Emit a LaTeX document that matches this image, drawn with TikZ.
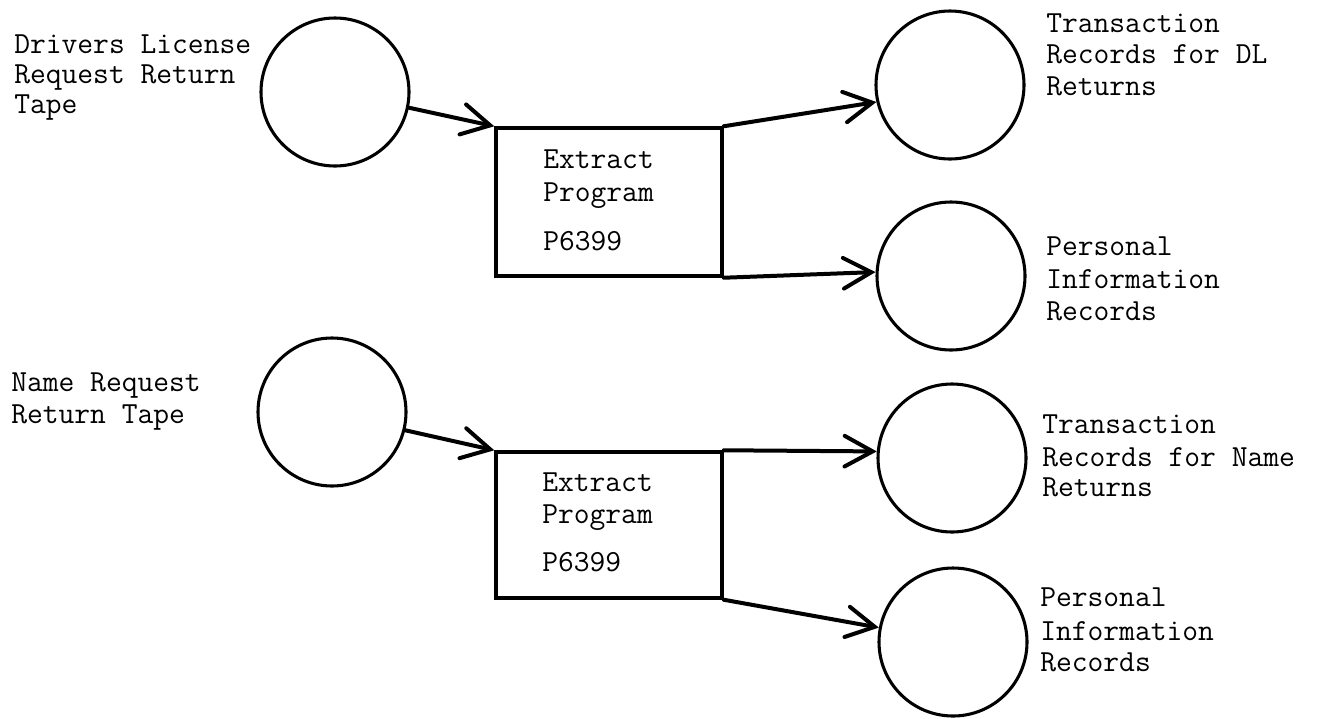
\documentclass[tikz,border=0pt]{standalone}
\usepackage{fontspec}
\usetikzlibrary{arrows.meta}
\begin{document}
\begin{tikzpicture}[x=0.75pt,y=-0.75pt,
  every node/.style={font=\ttfamily\fontsize{23}{24}\selectfont},
  store/.style={circle,draw,line width=2.3pt,minimum size=111pt,inner sep=0pt},
  procbox/.style={rectangle,draw,line width=2.6pt,minimum width=169.5pt,inner sep=0pt},
  flow/.style={line width=3pt,line cap=round,-{Straight Barb[length=21pt,width=23pt,line cap=round]}},
  lbl/.style={anchor=base west,inner sep=0pt}]
\useasboundingbox (0,0) rectangle (1320,718);
% stores
\node[store] (c1) at (335,92) {};
\node[store] (c2) at (332,412) {};
\node[store] (t1) at (950,85) {};
\node[store] (p1) at (951,276) {};
\node[store] (t2) at (952,458) {};
\node[store] (p2) at (953,642) {};
% process boxes
\node[procbox,minimum height=111pt] (b1) at (609,202) {};
\node[procbox,minimum height=109.5pt] (b2) at (609,525) {};
% box texts
\node[lbl] (b1a) at (543,168) {Extract};
\node[lbl] (b1b) at (543,201) {Program};
\node[lbl] (b1c) at (543,250) {P6399};
\node[lbl] (b2a) at (542,491) {Extract};
\node[lbl] (b2b) at (542,523) {Program};
\node[lbl] (b2c) at (542,571) {P6399};
% left labels
\node[lbl] (l1a) at (14,53) {Drivers License};
\node[lbl] (l1b) at (14,83) {Request Return};
\node[lbl] (l1c) at (14,113) {Tape};
\node[lbl] (l2a) at (11,391) {Name Request};
\node[lbl] (l2b) at (11,423) {Return Tape};
% right labels
\node[lbl] (r1a) at (1046,32) {Transaction};
\node[lbl] (r1b) at (1046,63) {Records for DL};
\node[lbl] (r1c) at (1046,95) {Returns};
\node[lbl] (r2a) at (1046,255) {Personal};
\node[lbl] (r2b) at (1046,288) {Information};
\node[lbl] (r2c) at (1046,320) {Records};
\node[lbl] (r3a) at (1042,433) {Transaction};
\node[lbl] (r3b) at (1042,466) {Records for Name};
\node[lbl] (r3c) at (1042,496) {Returns};
\node[lbl] (r4a) at (1040,606) {Personal};
\node[lbl] (r4b) at (1040,640) {Information};
\node[lbl] (r4c) at (1040,671) {Records};
% flows
\draw[flow] (c1.-12) -- (b1.north west);
\draw[flow] (b1.north east) -- (t1.193);
\draw[flow] (b1.south east) -- (p1.177);
\draw[flow] (c2.-14) -- (b2.north west);
\draw[flow] (b2.north east) -- (t2.175);
\draw[flow] (b2.south east) -- (p2.169);
\end{tikzpicture}
\end{document}
